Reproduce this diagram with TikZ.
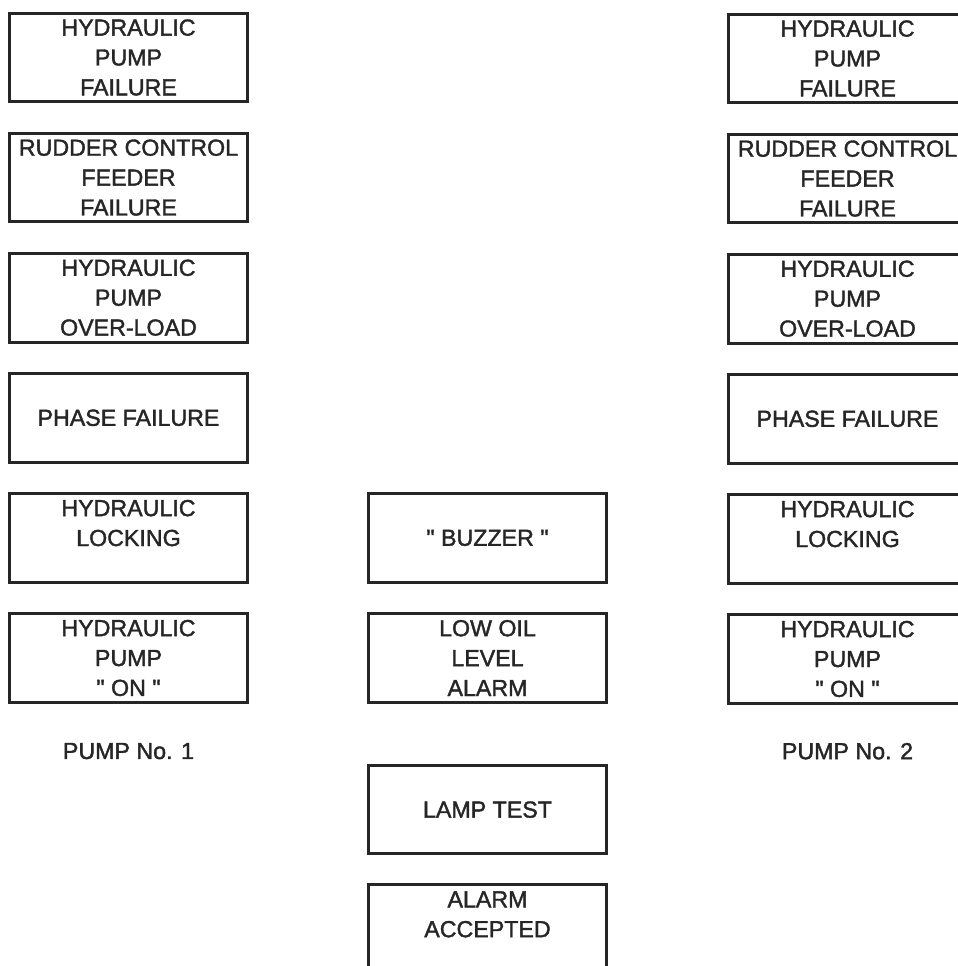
\documentclass[tikz,border=0pt]{standalone}
\usepackage{fontspec}
\newfontfamily\panelfont{Liberation Sans}[FakeBold=1.6, Ligatures=TeXOff]
\usepackage{tikz}
\usetikzlibrary{positioning}
\definecolor{ink}{HTML}{262626}

\tikzset{
  panel/.style={draw=ink, line width=3bp, minimum width=238bp, minimum height=88.6bp,
    inner sep=0pt, align=center, text=ink, font=\panelfont\fontsize{23.3}{30}\selectfont},
  caption/.style={inner sep=0pt, text=ink, font=\panelfont\fontsize{23.3}{30}\selectfont}
}

\begin{document}
\begin{tikzpicture}[x=1bp, y=-1bp, node distance=28.5bp and 118bp]
\clip (0,0) rectangle (958,966);
\fill[white] (0,0) rectangle (958,966);
% pump no. 1
\node[panel] (failA) at (128.5,57.5) {HYDRAULIC\\PUMP\\FAILURE};
\node[panel, below=of failA] (feedA) {RUDDER CONTROL\\FEEDER\\FAILURE};
\node[panel, below=of feedA] (loadA) {HYDRAULIC\\PUMP\\OVER-LOAD};
\node[panel, below=of loadA] (phaseA) {PHASE FAILURE};
\node[panel, below=of phaseA] (lockA) {HYDRAULIC\\LOCKING\\~};
\node[panel, below=of lockA] (onA) {HYDRAULIC\\PUMP\\" ON "};
\node[caption, below=39bp of onA] (pumpA) {PUMP No. 1};
% common panels
\node[panel, right=of lockA] (buzz) {" BUZZER "};
\node[panel, below=of buzz] (oil) {LOW OIL\\LEVEL\\ALARM};
\node[panel, below=60bp of oil] (lamp) {LAMP TEST};
\node[panel, below=28bp of lamp] (acc) {ALARM\\ACCEPTED\\~};
% pump no. 2
\node[panel] (failB) at (847.5,58.5) {HYDRAULIC\\PUMP\\FAILURE};
\node[panel, below=of failB] (feedB) {RUDDER CONTROL\\FEEDER\\FAILURE};
\node[panel, below=of feedB] (loadB) {HYDRAULIC\\PUMP\\OVER-LOAD};
\node[panel, below=of loadB] (phaseB) {PHASE FAILURE};
\node[panel, below=of phaseB] (lockB) {HYDRAULIC\\LOCKING\\~};
\node[panel, below=of lockB] (onB) {HYDRAULIC\\PUMP\\" ON "};
\node[caption, below=38bp of onB] (pumpB) {PUMP No. 2};
\end{tikzpicture}
\end{document}
